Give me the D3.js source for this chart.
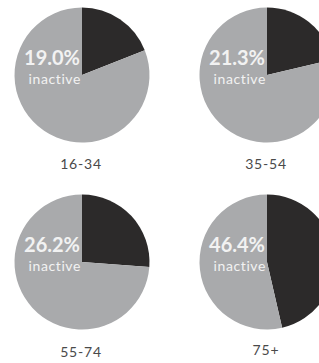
<!DOCTYPE html>
<html>
<head>
<meta charset="utf-8">
<script src="https://cdn.jsdelivr.net/npm/d3@7"></script>
<style>
html,body{margin:0;padding:0;background:#fff;}
svg{display:block;}
</style>
</head>
<body>
<svg id="chart" width="319" height="363"></svg>
<script>
const groups = ["16-34", "35-54", "55-74", "75+"];
const inactive = [19.0, 21.3, 26.2, 46.4];
const labels = ["19.0%", "21.3%", "26.2%", "46.4%"];

const svg = d3.select("#chart");
const cx = [82, 267, 82, 267];
const cy = [75, 75, 262, 262];
const ly = [169, 169, 357, 355];
const r = 67.5;

const pie = d3.pie().sort(null).value(d => d);
const arc = d3.arc().innerRadius(0).outerRadius(r);
const colors = ["#2c2a2a", "#a9aaac"];
const font = "Lato, 'Open Sans', sans-serif";

groups.forEach((g, i) => {
  const gg = svg.append("g").attr("transform", `translate(${cx[i]},${cy[i]})`);
  gg.selectAll("path")
    .data(pie([inactive[i], 100 - inactive[i]]))
    .join("path")
    .attr("d", arc)
    .attr("fill", (d, j) => colors[j]);
  gg.append("text")
    .attr("x", -2).attr("y", -10)
    .attr("text-anchor", "end")
    .attr("font-family", font)
    .attr("font-weight", "bold")
    .attr("font-size", 20)
    .attr("fill", "#f2f2f2")
    .text(labels[i]);
  gg.append("text")
    .attr("x", -1).attr("y", 9)
    .attr("text-anchor", "end")
    .attr("font-family", font)
    .attr("font-size", 14)
    .attr("letter-spacing", 0.6)
    .attr("fill", "#f2f2f2")
    .text("inactive");
  svg.append("text")
    .attr("x", cx[i] - 1).attr("y", ly[i])
    .attr("text-anchor", "middle")
    .attr("font-family", font)
    .attr("font-size", 14)
    .attr("letter-spacing", 0.8)
    .attr("fill", "#4a4a4a")
    .text(g);
});
</script>
</body>
</html>
